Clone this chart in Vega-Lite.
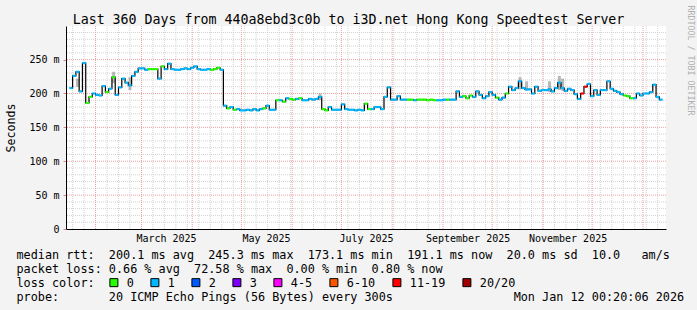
{
  "$schema": "https://vega.github.io/schema/vega-lite/v6.json",
  "width": 600,
  "height": 203,
  "autosize": {"type": "none"},
  "padding": {"left": 66, "top": 26, "right": 31, "bottom": 81},
  "background": "#f3f3f3",
  "view": {"fill": "#ffffff", "stroke": null},
  "config": {"font": "DejaVu Sans Mono"},
  "title": {
    "text": "Last 360 Days from 440a8ebd3c0b to i3D.net Hong Kong Speedtest Server",
    "font": "DejaVu Sans Mono",
    "fontSize": 13.29,
    "fontWeight": "normal",
    "color": "#000000",
    "anchor": "middle",
    "frame": "group",
    "dx": -17.5,
    "baseline": "alphabetic",
    "offset": -32
  },
  "datasets": {
    "ygrid": [{"v":10},{"v":20},{"v":30},{"v":40},{"v":60},{"v":70},{"v":80},{"v":90},{"v":110},{"v":120},{"v":130},{"v":140},{"v":160},{"v":170},{"v":180},{"v":190},{"v":210},{"v":220},{"v":230},{"v":240},{"v":260},{"v":270},{"v":280},{"v":290}],
    "ymajor": [{"v":50},{"v":100},{"v":150},{"v":200},{"v":250}],
    "xminor": [{"d":"2025-01-18"},{"d":"2025-01-25"},{"d":"2025-02-01"},{"d":"2025-02-08"},{"d":"2025-02-15"},{"d":"2025-02-22"},{"d":"2025-03-01"},{"d":"2025-03-08"},{"d":"2025-03-15"},{"d":"2025-03-22"},{"d":"2025-03-29"},{"d":"2025-04-05"},{"d":"2025-04-12"},{"d":"2025-04-19"},{"d":"2025-04-26"},{"d":"2025-05-03"},{"d":"2025-05-10"},{"d":"2025-05-17"},{"d":"2025-05-24"},{"d":"2025-05-31"},{"d":"2025-06-07"},{"d":"2025-06-14"},{"d":"2025-06-21"},{"d":"2025-06-28"},{"d":"2025-07-05"},{"d":"2025-07-12"},{"d":"2025-07-19"},{"d":"2025-07-26"},{"d":"2025-08-02"},{"d":"2025-08-09"},{"d":"2025-08-16"},{"d":"2025-08-23"},{"d":"2025-08-30"},{"d":"2025-09-06"},{"d":"2025-09-13"},{"d":"2025-09-20"},{"d":"2025-09-27"},{"d":"2025-10-04"},{"d":"2025-10-11"},{"d":"2025-10-18"},{"d":"2025-10-25"},{"d":"2025-11-01"},{"d":"2025-11-08"},{"d":"2025-11-15"},{"d":"2025-11-22"},{"d":"2025-11-29"},{"d":"2025-12-06"},{"d":"2025-12-13"},{"d":"2025-12-20"},{"d":"2025-12-27"},{"d":"2026-01-03"},{"d":"2026-01-10"}],
    "xmajor": [{"d":"2025-02-01"},{"d":"2025-03-01"},{"d":"2025-04-01"},{"d":"2025-05-01"},{"d":"2025-06-01"},{"d":"2025-07-01"},{"d":"2025-08-01"},{"d":"2025-09-01"},{"d":"2025-10-01"},{"d":"2025-11-01"},{"d":"2025-12-01"},{"d":"2026-01-01"}],
    "smoke": [
      {"date":"2025-01-21","lo":210,"hi":222},{"date":"2025-02-12","lo":215,"hi":232},{"date":"2025-02-22","lo":205,"hi":224},
      {"date":"2025-06-18","lo":190,"hi":200},{"date":"2025-10-18","lo":206,"hi":224},{"date":"2025-10-22","lo":204,"hi":218},
      {"date":"2025-11-05","lo":202,"hi":218},{"date":"2025-11-11","lo":205,"hi":226},{"date":"2025-11-13","lo":204,"hi":222}
    ],
    "rtt": [
      {"date":"2025-01-17","median":208,"loss":"1"},{"date":"2025-01-19","median":226,"loss":"1"},{"date":"2025-01-21","median":232,"loss":"1"},{"date":"2025-01-23","median":203,"loss":"1"},{"date":"2025-01-25","median":245,"loss":"1"},{"date":"2025-01-27","median":186,"loss":"0"},{"date":"2025-01-29","median":195,"loss":"0"},{"date":"2025-01-31","median":200,"loss":"1"},
      {"date":"2025-02-02","median":198,"loss":"1"},{"date":"2025-02-04","median":197,"loss":"1"},{"date":"2025-02-06","median":211,"loss":"1"},{"date":"2025-02-08","median":202,"loss":"0"},{"date":"2025-02-10","median":207,"loss":"1"},{"date":"2025-02-12","median":224,"loss":"0"},{"date":"2025-02-14","median":198,"loss":"1"},{"date":"2025-02-16","median":209,"loss":"1"},{"date":"2025-02-18","median":222,"loss":"1"},{"date":"2025-02-20","median":216,"loss":"1"},{"date":"2025-02-22","median":212,"loss":"1"},{"date":"2025-02-24","median":226,"loss":"1"},{"date":"2025-02-26","median":232,"loss":"1"},{"date":"2025-02-28","median":237,"loss":"1"},
      {"date":"2025-03-02","median":237,"loss":"1"},{"date":"2025-03-04","median":235,"loss":"1"},{"date":"2025-03-06","median":236,"loss":"0"},{"date":"2025-03-08","median":236,"loss":"0"},{"date":"2025-03-10","median":236,"loss":"0"},{"date":"2025-03-12","median":222,"loss":"1"},{"date":"2025-03-14","median":240,"loss":"0"},{"date":"2025-03-16","median":236,"loss":"1"},{"date":"2025-03-18","median":244,"loss":"1"},{"date":"2025-03-20","median":236,"loss":"1"},{"date":"2025-03-22","median":235,"loss":"1"},{"date":"2025-03-24","median":235,"loss":"1"},{"date":"2025-03-26","median":236,"loss":"1"},{"date":"2025-03-28","median":237,"loss":"1"},{"date":"2025-03-30","median":236,"loss":"1"},
      {"date":"2025-04-01","median":238,"loss":"1"},{"date":"2025-04-03","median":240,"loss":"1"},{"date":"2025-04-05","median":236,"loss":"1"},{"date":"2025-04-07","median":235,"loss":"1"},{"date":"2025-04-09","median":235,"loss":"1"},{"date":"2025-04-11","median":236,"loss":"1"},{"date":"2025-04-13","median":235,"loss":"0"},{"date":"2025-04-15","median":236,"loss":"0"},{"date":"2025-04-17","median":238,"loss":"0"},{"date":"2025-04-19","median":235,"loss":"1"},{"date":"2025-04-21","median":182,"loss":"1"},{"date":"2025-04-23","median":178,"loss":"0"},{"date":"2025-04-25","median":180,"loss":"1"},{"date":"2025-04-27","median":176,"loss":"0"},{"date":"2025-04-29","median":177,"loss":"1"},
      {"date":"2025-05-01","median":175,"loss":"1"},{"date":"2025-05-03","median":175,"loss":"1"},{"date":"2025-05-05","median":176,"loss":"1"},{"date":"2025-05-07","median":175,"loss":"1"},{"date":"2025-05-09","median":177,"loss":"1"},{"date":"2025-05-11","median":175,"loss":"1"},{"date":"2025-05-13","median":177,"loss":"1"},{"date":"2025-05-15","median":178,"loss":"0"},{"date":"2025-05-17","median":182,"loss":"1"},{"date":"2025-05-19","median":176,"loss":"1"},{"date":"2025-05-21","median":176,"loss":"1"},{"date":"2025-05-23","median":190,"loss":"0"},{"date":"2025-05-25","median":190,"loss":"1"},{"date":"2025-05-27","median":188,"loss":"0"},{"date":"2025-05-29","median":193,"loss":"1"},{"date":"2025-05-31","median":192,"loss":"0"},
      {"date":"2025-06-02","median":191,"loss":"0"},{"date":"2025-06-04","median":192,"loss":"1"},{"date":"2025-06-06","median":193,"loss":"0"},{"date":"2025-06-08","median":190,"loss":"1"},{"date":"2025-06-10","median":190,"loss":"1"},{"date":"2025-06-12","median":192,"loss":"1"},{"date":"2025-06-14","median":191,"loss":"1"},{"date":"2025-06-16","median":192,"loss":"1"},{"date":"2025-06-18","median":195,"loss":"1"},{"date":"2025-06-20","median":177,"loss":"0"},{"date":"2025-06-22","median":175,"loss":"0"},{"date":"2025-06-24","median":180,"loss":"1"},{"date":"2025-06-26","median":176,"loss":"1"},{"date":"2025-06-28","median":176,"loss":"1"},{"date":"2025-06-30","median":176,"loss":"1"},
      {"date":"2025-07-02","median":184,"loss":"1"},{"date":"2025-07-04","median":177,"loss":"1"},{"date":"2025-07-06","median":176,"loss":"1"},{"date":"2025-07-08","median":176,"loss":"1"},{"date":"2025-07-10","median":175,"loss":"1"},{"date":"2025-07-12","median":176,"loss":"1"},{"date":"2025-07-14","median":175,"loss":"1"},{"date":"2025-07-16","median":185,"loss":"0"},{"date":"2025-07-18","median":177,"loss":"0"},{"date":"2025-07-20","median":177,"loss":"1"},{"date":"2025-07-22","median":180,"loss":"1"},{"date":"2025-07-24","median":180,"loss":"1"},{"date":"2025-07-26","median":177,"loss":"1"},{"date":"2025-07-28","median":195,"loss":"1"},{"date":"2025-07-30","median":209,"loss":"1"},
      {"date":"2025-08-01","median":191,"loss":"1"},{"date":"2025-08-03","median":191,"loss":"1"},{"date":"2025-08-05","median":196,"loss":"1"},{"date":"2025-08-07","median":191,"loss":"1"},{"date":"2025-08-09","median":191,"loss":"1"},{"date":"2025-08-11","median":191,"loss":"0"},{"date":"2025-08-13","median":191,"loss":"0"},{"date":"2025-08-15","median":190,"loss":"1"},{"date":"2025-08-17","median":191,"loss":"0"},{"date":"2025-08-19","median":191,"loss":"0"},{"date":"2025-08-21","median":191,"loss":"0"},{"date":"2025-08-23","median":190,"loss":"0"},{"date":"2025-08-25","median":191,"loss":"0"},{"date":"2025-08-27","median":190,"loss":"0"},{"date":"2025-08-29","median":190,"loss":"1"},{"date":"2025-08-31","median":190,"loss":"1"},
      {"date":"2025-09-02","median":191,"loss":"1"},{"date":"2025-09-04","median":191,"loss":"0"},{"date":"2025-09-06","median":191,"loss":"1"},{"date":"2025-09-08","median":191,"loss":"1"},{"date":"2025-09-10","median":203,"loss":"1"},{"date":"2025-09-12","median":195,"loss":"1"},{"date":"2025-09-14","median":196,"loss":"0"},{"date":"2025-09-16","median":193,"loss":"0"},{"date":"2025-09-18","median":197,"loss":"0"},{"date":"2025-09-20","median":195,"loss":"1"},{"date":"2025-09-22","median":203,"loss":"1"},{"date":"2025-09-24","median":198,"loss":"1"},{"date":"2025-09-26","median":193,"loss":"1"},{"date":"2025-09-28","median":196,"loss":"1"},{"date":"2025-09-30","median":202,"loss":"1"},
      {"date":"2025-10-02","median":198,"loss":"1"},{"date":"2025-10-04","median":194,"loss":"0"},{"date":"2025-10-06","median":191,"loss":"1"},{"date":"2025-10-08","median":194,"loss":"1"},{"date":"2025-10-10","median":200,"loss":"0"},{"date":"2025-10-12","median":210,"loss":"1"},{"date":"2025-10-14","median":205,"loss":"1"},{"date":"2025-10-16","median":208,"loss":"1"},{"date":"2025-10-18","median":218,"loss":"1"},{"date":"2025-10-20","median":208,"loss":"1"},{"date":"2025-10-22","median":206,"loss":"1"},{"date":"2025-10-24","median":206,"loss":"1"},{"date":"2025-10-26","median":200,"loss":"1"},{"date":"2025-10-28","median":210,"loss":"1"},{"date":"2025-10-30","median":204,"loss":"1"},
      {"date":"2025-11-01","median":205,"loss":"1"},{"date":"2025-11-03","median":205,"loss":"1"},{"date":"2025-11-05","median":206,"loss":"1"},{"date":"2025-11-07","median":203,"loss":"1"},{"date":"2025-11-09","median":208,"loss":"1"},{"date":"2025-11-11","median":216,"loss":"1"},{"date":"2025-11-13","median":208,"loss":"1"},{"date":"2025-11-15","median":204,"loss":"1"},{"date":"2025-11-17","median":207,"loss":"1"},{"date":"2025-11-19","median":205,"loss":"1"},{"date":"2025-11-21","median":199,"loss":"1"},{"date":"2025-11-23","median":192,"loss":"1"},{"date":"2025-11-25","median":200,"loss":"11-19"},{"date":"2025-11-27","median":210,"loss":"11-19"},{"date":"2025-11-29","median":214,"loss":"1"},
      {"date":"2025-12-01","median":196,"loss":"1"},{"date":"2025-12-03","median":205,"loss":"1"},{"date":"2025-12-05","median":198,"loss":"1"},{"date":"2025-12-07","median":205,"loss":"1"},{"date":"2025-12-09","median":205,"loss":"1"},{"date":"2025-12-11","median":218,"loss":"1"},{"date":"2025-12-13","median":207,"loss":"1"},{"date":"2025-12-15","median":204,"loss":"1"},{"date":"2025-12-17","median":202,"loss":"1"},{"date":"2025-12-19","median":199,"loss":"1"},{"date":"2025-12-21","median":197,"loss":"0"},{"date":"2025-12-23","median":196,"loss":"0"},{"date":"2025-12-25","median":193,"loss":"0"},{"date":"2025-12-27","median":193,"loss":"1"},{"date":"2025-12-29","median":200,"loss":"1"},{"date":"2025-12-31","median":197,"loss":"1"},
      {"date":"2026-01-02","median":200,"loss":"1"},{"date":"2026-01-04","median":200,"loss":"1"},{"date":"2026-01-06","median":202,"loss":"1"},{"date":"2026-01-08","median":213,"loss":"1"},{"date":"2026-01-10","median":195,"loss":"1"},{"date":"2026-01-12","median":191,"loss":"1"}
    ]
  },
  "layer": [
    {
      "data": {"name": "ygrid"},
      "mark": {"type": "rule", "color": "#d2d2d2", "strokeDash": [1, 1], "strokeWidth": 1},
      "encoding": {
        "y": {
          "field": "v", "type": "quantitative",
          "scale": {"domain": [0, 299.6], "nice": false, "zero": true},
          "axis": {
            "orient": "right", "domain": false, "ticks": false, "labels": false, "grid": false,
            "title": "RRDTOOL / TOBI OETIKER", "titleAngle": 90,
            "titleFont": "DejaVu Sans Mono", "titleFontSize": 8.3, "titleFontWeight": "normal",
            "titleColor": "#b0b0b0", "titleAlign": "left", "titleBaseline": "middle",
            "titleX": 23, "titleY": -21
          }
        }
      }
    },
    {
      "data": {"name": "xminor"},
      "mark": {"type": "rule", "color": "#d2d2d2", "strokeDash": [1, 1], "strokeWidth": 1},
      "encoding": {
        "x": {
          "field": "d", "type": "temporal",
          "scale": {"type": "utc", "domain": [{"year": 2025, "month": 1, "date": 17, "hours": 0, "minutes": 20, "utc": true}, {"year": 2026, "month": 1, "date": 12, "hours": 0, "minutes": 20, "utc": true}]},
          "axis": null
        }
      }
    },
    {
      "data": {"name": "ymajor"},
      "mark": {"type": "rule", "color": "#eda0a0", "strokeDash": [1, 1], "strokeWidth": 1},
      "encoding": {
        "y": {
          "field": "v", "type": "quantitative",
          "scale": {"domain": [0, 299.6], "nice": false, "zero": true},
          "axis": {
            "orient": "left", "values": [0, 50, 100, 150, 200, 250],
            "labelExpr": "datum.value == 0 ? '0' : datum.value + ' m'",
            "labelFont": "DejaVu Sans Mono", "labelFontSize": 10, "labelColor": "#000000",
            "labelPadding": 4, "labelOverlap": false, "labelBound": false, "labelFlush": false,
            "ticks": true, "tickSize": 3, "tickColor": "#e08080",
            "domain": true, "domainColor": "#000000", "domainWidth": 1, "grid": false,
            "title": "Seconds", "titleFont": "DejaVu Sans Mono", "titleFontSize": 11.63,
            "titleFontWeight": "normal", "titleColor": "#000000", "titleAngle": -90,
            "titleAlign": "center", "titleBaseline": "alphabetic", "titleX": -52, "titleY": 101.5
          }
        }
      }
    },
    {
      "data": {"name": "xmajor"},
      "mark": {"type": "rule", "color": "#eda0a0", "strokeDash": [1, 1], "strokeWidth": 1},
      "encoding": {
        "x": {
          "field": "d", "type": "temporal",
          "scale": {"type": "utc", "domain": [{"year": 2025, "month": 1, "date": 17, "hours": 0, "minutes": 20, "utc": true}, {"year": 2026, "month": 1, "date": 12, "hours": 0, "minutes": 20, "utc": true}]},
          "axis": null
        }
      }
    },
    {
      "data": {"name": "smoke"},
      "mark": {"type": "bar", "width": 3, "color": "#808080", "opacity": 0.55},
      "encoding": {
        "x": {
          "field": "date", "type": "temporal",
          "scale": {"type": "utc", "domain": [{"year": 2025, "month": 1, "date": 17, "hours": 0, "minutes": 20, "utc": true}, {"year": 2026, "month": 1, "date": 12, "hours": 0, "minutes": 20, "utc": true}]},
          "axis": null
        },
        "y": {"field": "lo", "type": "quantitative", "scale": {"domain": [0, 299.6], "nice": false, "zero": true}, "axis": null},
        "y2": {"field": "hi"}
      }
    },
    {
      "data": {"name": "rtt"},
      "mark": {"type": "line", "interpolate": "step", "color": "#000000", "strokeWidth": 1.2},
      "encoding": {
        "x": {
          "field": "date", "type": "temporal",
          "scale": {"type": "utc", "domain": [{"year": 2025, "month": 1, "date": 17, "hours": 0, "minutes": 20, "utc": true}, {"year": 2026, "month": 1, "date": 12, "hours": 0, "minutes": 20, "utc": true}]},
          "axis": {
            "orient": "bottom",
            "values": [
              {"year": 2025, "month": 3, "date": 16, "utc": true},
              {"year": 2025, "month": 5, "date": 16, "utc": true},
              {"year": 2025, "month": 7, "date": 16, "utc": true},
              {"year": 2025, "month": 9, "date": 16, "utc": true},
              {"year": 2025, "month": 11, "date": 16, "utc": true}
            ],
            "format": "%B %Y",
            "labelFont": "DejaVu Sans Mono", "labelFontSize": 10, "labelColor": "#000000",
            "labelBaseline": "alphabetic", "labelPadding": 12.5, "labelFlush": false, "labelOverlap": false,
            "ticks": false, "tickSize": 0, "grid": false,
            "domain": true, "domainColor": "#000000", "domainWidth": 1,
            "title": [
              "median rtt:\u00a0\u00a0200.1 ms avg\u00a0\u00a0245.3 ms max\u00a0\u00a0173.1 ms min\u00a0\u00a0191.1 ms now\u00a0\u00a020.0 ms sd\u00a0\u00a010.0\u00a0\u00a0\u00a0am/s",
              "packet loss: 0.66 % avg\u00a0\u00a072.58 % max\u00a0\u00a00.00 % min\u00a0\u00a00.80 % now",
              "loss color:",
              "probe:\u00a0\u00a0\u00a0\u00a0\u00a0\u00a0\u00a020 ICMP Echo Pings (56 Bytes) every 300s\u00a0\u00a0\u00a0\u00a0\u00a0\u00a0\u00a0\u00a0\u00a0\u00a0\u00a0\u00a0\u00a0\u00a0\u00a0\u00a0\u00a0Mon Jan 12 00:20:06 2026"
            ],
            "titleFont": "DejaVu Sans Mono", "titleFontSize": 11.8, "titleFontWeight": "normal",
            "titleColor": "#000000", "titleAlign": "left", "titleAnchor": "start",
            "titleBaseline": "alphabetic", "titleLineHeight": 14, "titleAngle": 0,
            "titleX": -50, "titleY": 29.5
          }
        },
        "y": {"field": "median", "type": "quantitative", "scale": {"domain": [0, 299.6], "nice": false, "zero": true}, "axis": null}
      }
    },
    {
      "data": {"name": "rtt"},
      "mark": {"type": "tick", "orient": "horizontal", "size": 3.4, "thickness": 2.2, "opacity": 1},
      "encoding": {
        "x": {
          "field": "date", "type": "temporal",
          "scale": {"type": "utc", "domain": [{"year": 2025, "month": 1, "date": 17, "hours": 0, "minutes": 20, "utc": true}, {"year": 2026, "month": 1, "date": 12, "hours": 0, "minutes": 20, "utc": true}]},
          "axis": null
        },
        "y": {"field": "median", "type": "quantitative", "scale": {"domain": [0, 299.6], "nice": false, "zero": true}, "axis": null},
        "color": {
          "field": "loss", "type": "nominal",
          "scale": {
            "domain": ["0", "1", "2", "3", "4-5", "6-10", "11-19", "20/20"],
            "range": ["#26ff00", "#00b8ff", "#0059ff", "#7e00ff", "#ff00ff", "#ff5500", "#ff0000", "#a10000"]
          },
          "legend": {
            "orient": "none", "legendX": 42, "legendY": 250.6, "direction": "horizontal", "columns": 8,
            "title": null, "symbolType": "square", "symbolSize": 64,
            "symbolStrokeColor": "#000000", "symbolStrokeWidth": 1, "symbolOpacity": 1,
            "labelFont": "DejaVu Sans Mono", "labelFontSize": 11.8, "labelColor": "#000000",
            "labelOffset": 7, "columnPadding": 14, "padding": 0, "labelLimit": 0
          }
        }
      }
    }
  ],
  "resolve": {"axis": {"x": "independent", "y": "independent"}}
}
